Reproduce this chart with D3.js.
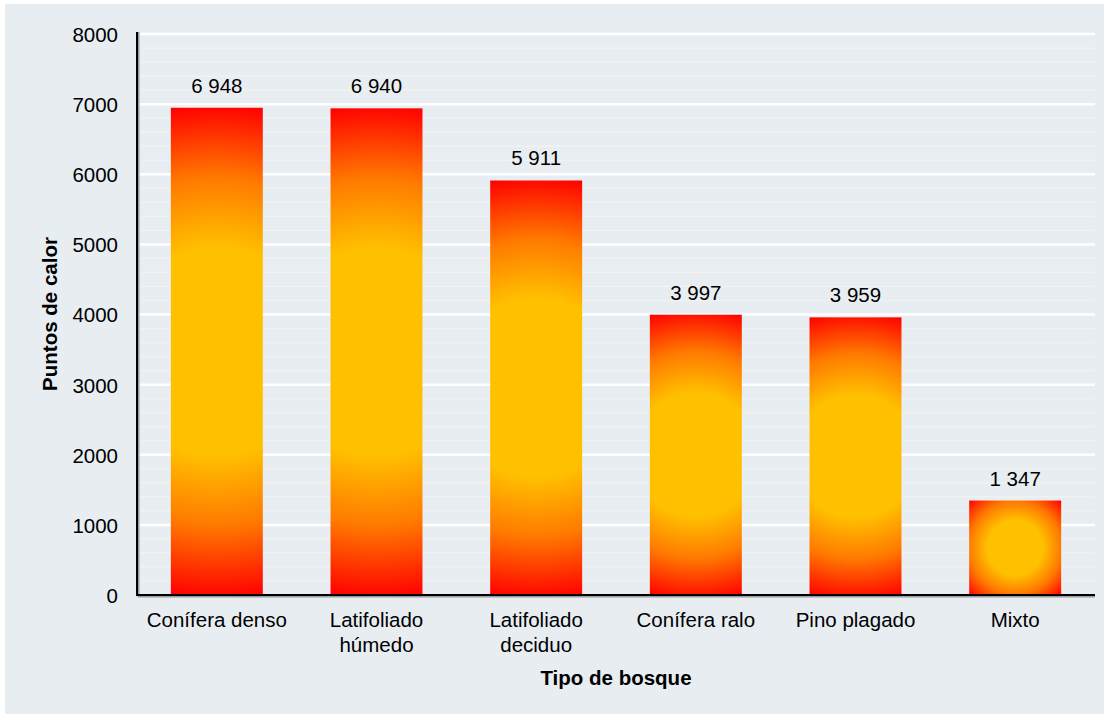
<!DOCTYPE html>
<html><head><meta charset="utf-8">
<script src="https://cdn.jsdelivr.net/npm/d3@7/dist/d3.min.js"></script>
<style>
html,body{margin:0;padding:0;background:#fff;}
svg{display:block;font-family:"Liberation Sans",Arial,sans-serif;}
</style></head>
<body><svg id="c" width="1109" height="719"></svg>
<script>
const categories = [["Conífera denso"],["Latifoliado","húmedo"],["Latifoliado","deciduo"],["Conífera ralo"],["Pino plagado"],["Mixto"]];
const values = [6948, 6940, 5911, 3997, 3959, 1347];
const valueLabels = ["6 948","6 940","5 911","3 997","3 959","1 347"];
const yTicks = [0,1000,2000,3000,4000,5000,6000,7000,8000];
const minorTicks = d3.range(200, 8001, 200).filter(v => v % 1000 !== 0);

const svg = d3.select("#c");
const m = {left:137, right:1095, top:34, bottom:595};
const FS = 20.5;

svg.append("rect").attr("x",5).attr("y",4).attr("width",1099).attr("height",710).attr("fill","#e8edf2");

const x = d3.scaleBand().domain(d3.range(categories.length)).range([m.left, m.right]).paddingInner(0.424).paddingOuter(0.212);
const y = d3.scaleLinear().domain([0,8000]).range([m.bottom, m.top]);

// minor grid
svg.append("g").selectAll("line").data(minorTicks).join("line")
  .attr("x1", m.left).attr("x2", m.right)
  .attr("y1", d=>y(d)).attr("y2", d=>y(d))
  .attr("stroke","#f3f2f0").attr("stroke-width",1.2);
// major grid
svg.append("g").selectAll("line").data(yTicks.filter(d=>d>0)).join("line")
  .attr("x1", m.left).attr("x2", m.right)
  .attr("y1", d=>y(d)).attr("y2", d=>y(d))
  .attr("stroke","#ffffff").attr("stroke-width",2.5);

// gradients
const defs = svg.append("defs");
values.forEach((v,i)=>{
  const x0 = x(i), w = x.bandwidth(), y0 = y(v), h = y(0)-y(v);
  const r = Math.sqrt((w/2)*(w/2)+(h/2)*(h/2));
  const g = defs.append("radialGradient").attr("id","g"+i)
    .attr("gradientUnits","userSpaceOnUse")
    .attr("cx", x0+w/2).attr("cy", y0+h/2).attr("r", r)
    .attr("fx", x0+w/2).attr("fy", y0+h/2);
  g.append("stop").attr("offset","0").attr("stop-color","#ffc000");
  g.append("stop").attr("offset","0.42").attr("stop-color","#ffc000");
  g.append("stop").attr("offset","0.7").attr("stop-color","#ff7a00");
  g.append("stop").attr("offset","1").attr("stop-color","#ff0000");
});

svg.append("g").selectAll("rect").data(values).join("rect")
  .attr("x",(d,i)=>x(i)).attr("width",x.bandwidth())
  .attr("y",d=>y(d)).attr("height",d=>y(0)-y(d))
  .attr("fill",(d,i)=>"url(#g"+i+")");

// value labels
svg.append("g").selectAll("text").data(values).join("text")
  .attr("x",(d,i)=>x(i)+x.bandwidth()/2).attr("y",d=>y(d)-15)
  .attr("text-anchor","middle").attr("font-size",FS).attr("fill","#000")
  .text((d,i)=>valueLabels[i]);

// axes with shadow
const axG = svg.append("g");
axG.append("path").attr("d",`M${m.left+1.5},${m.top-2}V${m.bottom+1.5}H${m.right}`).attr("fill","none").attr("stroke","#9a9a9a").attr("stroke-width",2);
axG.append("path").attr("d",`M${m.left},${m.top-2}V${m.bottom}H${m.right}`).attr("fill","none").attr("stroke","#000").attr("stroke-width",2);

// y ticks
const yAxis = d3.axisLeft(y).tickValues(yTicks).tickSize(0).tickPadding(19).tickFormat(d3.format("d"));
const ya = svg.append("g").attr("transform",`translate(${m.left},0)`).call(yAxis);
ya.select(".domain").remove();
ya.selectAll("text").attr("font-size",FS).attr("fill","#000").attr("font-family","Liberation Sans, Arial, sans-serif").attr("dy","0.36em");

// x tick labels
const xa = svg.append("g");
categories.forEach((lines,i)=>{
  const t = xa.append("text").attr("x",x(i)+x.bandwidth()/2).attr("y",627).attr("text-anchor","middle").attr("font-size",FS).attr("fill","#000");
  lines.forEach((l,j)=>t.append("tspan").attr("x",x(i)+x.bandwidth()/2).attr("dy", j===0?0:25).text(l));
});

// axis titles
svg.append("text").attr("x",(m.left+m.right)/2).attr("y",685).attr("text-anchor","middle")
  .attr("font-size",20.5).attr("font-weight","bold").text("Tipo de bosque");
svg.append("text").attr("transform",`translate(57,314) rotate(-90)`).attr("text-anchor","middle")
  .attr("font-size",20.5).attr("font-weight","bold").text("Puntos de calor");
</script></body></html>
